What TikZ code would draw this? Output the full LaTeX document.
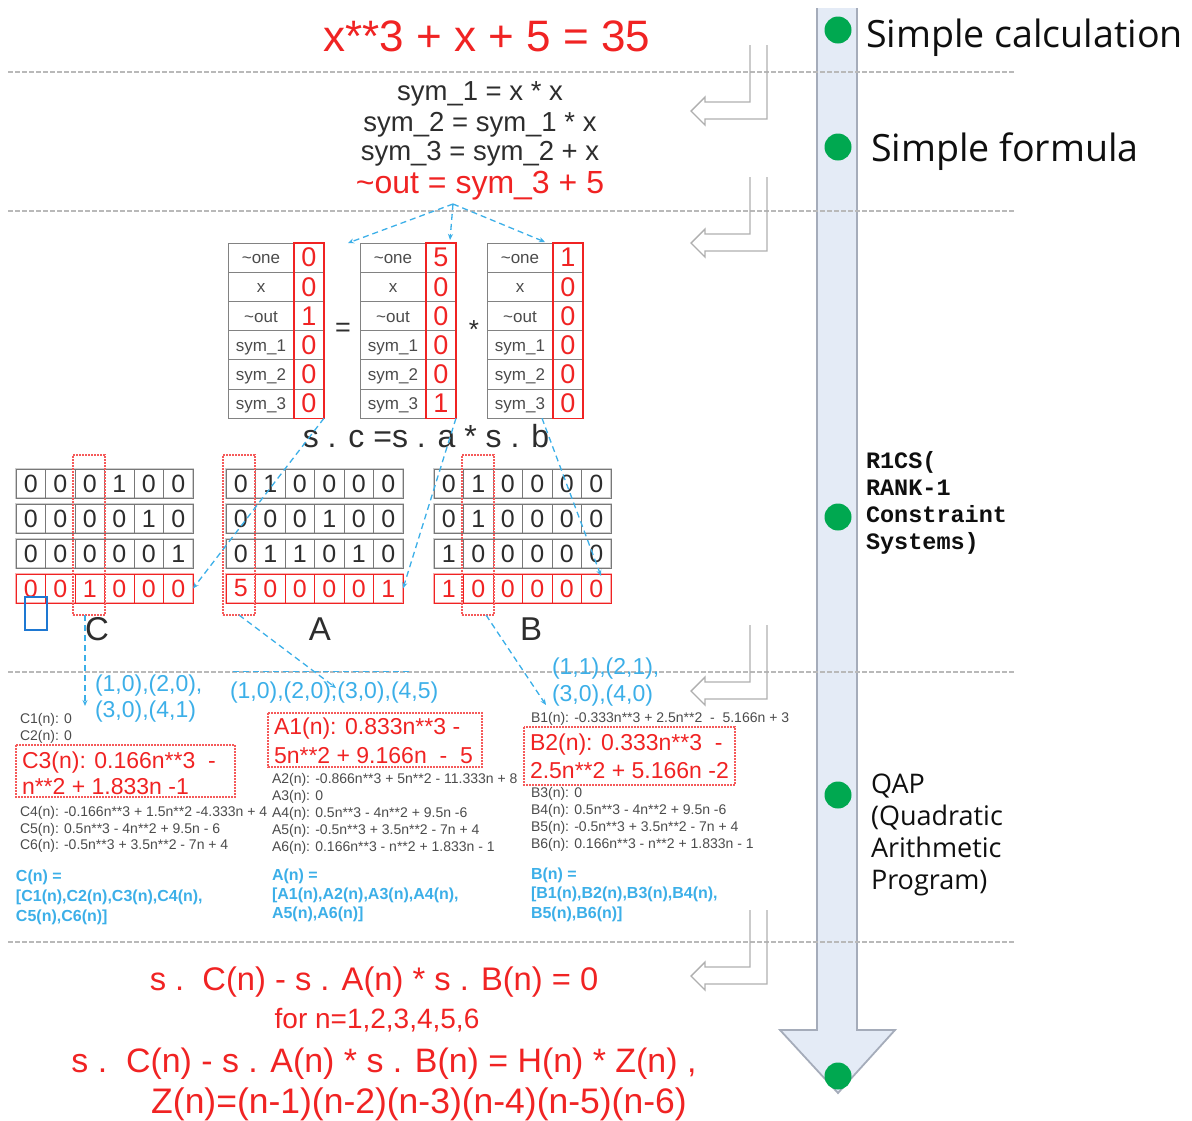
\documentclass[tikz,border=0pt]{standalone}
\usepackage{fontspec}
\setmainfont{Liberation Sans}
\newfontfamily\lblfont{Open Sans}
\newfontfamily\monofnt{Liberation Mono}
\usetikzlibrary{arrows.meta,calc}
\newcommand\fsz[1]{\fontsize{#1pt}{#1pt}\selectfont}
\newcommand\tild{\textasciitilde}
\definecolor{cred}{RGB}{240,35,35}
\definecolor{hlred}{RGB}{245,90,90}
\definecolor{cblue}{RGB}{60,175,232}
\definecolor{cblue2}{RGB}{30,120,210}
\definecolor{dark}{RGB}{45,45,45}
\definecolor{mid}{RGB}{75,75,75}
\definecolor{sepc}{RGB}{185,185,185}
\definecolor{hollowc}{RGB}{175,175,175}
\definecolor{bandfill}{RGB}{228,235,246}
\definecolor{bandedge}{RGB}{165,172,186}
\definecolor{cgreen}{RGB}{0,168,80}
\definecolor{cellc}{RGB}{130,130,130}
\definecolor{gframe}{RGB}{205,205,205}
\definecolor{gcell}{RGB}{120,120,120}
\definecolor{gtxt}{RGB}{45,45,45}
\definecolor{rframe}{RGB}{250,175,175}
\definecolor{rcell}{RGB}{240,35,35}
\definecolor{rtxt}{RGB}{240,35,35}
\definecolor{lbl}{RGB}{15,15,15}

% vector table: name, left x, values
\newcommand\vectab[3]{%
  \foreach \lab [count=\i from 0] in {\tild one,x,\tild out,sym\_1,sym\_2,sym\_3}{
    \draw[cellc,line width=0.9pt] (#2,243+\i*29.2) rectangle ++(66,29.2);
    \node[anchor=base,text=mid,font=\fsz{17}] at (#2+33,243+\i*29.2+20.6) {\lab};
  }
  \foreach \v [count=\i from 0] in {#3}{
    \draw[cellc,line width=0.9pt] (#2+66,243+\i*29.2) rectangle ++(30,29.2);
    \node[text=cred,font=\fsz{27}] at (#2+81,243+\i*29.2+14.6) {\v};
  }
  \draw[cred,line width=1.1pt] (#2+66,243) rectangle ++(30,175.2);
  \node[minimum width=96pt,minimum height=175.2pt,anchor=north west] (#1) at (#2,243) {};
}
% matrix row: name, left, top, values, colour prefix
\newcommand\matrow[5]{%
  \draw[#5frame,line width=2.6pt] (#2,#3) rectangle ++(177,29);
  \foreach \v [count=\i from 0] in {#4}{
    \draw[#5cell,line width=1pt] (#2+\i*29.5,#3) rectangle ++(29.5,29);
    \node[text=#5txt,font=\fsz{25}] at (#2+\i*29.5+14.75,#3+14.5) {\v};
  }
  \node[minimum width=177pt,minimum height=29pt,anchor=north west] (#1) at (#2,#3) {};
}

\begin{document}
\begin{tikzpicture}[x=1pt,y=-1pt,
  every node/.style={inner sep=0pt,outer sep=0pt},
  sep/.style={draw=sepc,line width=1.6pt,dash pattern=on 4.5pt off 2.5pt},
  hollow/.style={draw=hollowc,line width=1.4pt,line join=miter},
  bl/.style={draw=cblue,line width=1.3pt,dash pattern=on 6pt off 4pt},
  bla/.style={bl,-{Stealth[length=6pt,width=5pt]}},
  dot/.style={circle,fill=cgreen,minimum size=27pt},
  small/.style={anchor=base west,text=mid,font=\fsz{14}},
  redbig/.style={anchor=base west,text=cred,font=\fsz{23}},
  bluelist/.style={anchor=base west,text=cblue,font=\bfseries\fsz{16}},
  pts/.style={anchor=base west,text=cblue,font=\fsz{23}},
  redbox/.style={draw=hlred,dash pattern=on 2pt off 1pt,line width=1.2pt},
  colhl/.style={draw=hlred,dash pattern=on 2pt off 1pt,line width=1.3pt,minimum width=32pt,minimum height=160pt},
  qap/.style={anchor=base west,text=lbl,font=\lblfont\fsz{27}},
  rics/.style={anchor=base west,text=lbl,font=\monofnt\bfseries\fsz{23.5}},
]
\useasboundingbox (0,0) rectangle (1192,1120);

% ---- big timeline arrow
\fill[bandfill] (817,8) -- (857,8) -- (857,1030) -- (895,1030) -- (838,1093) -- (780,1030) -- (817,1030) -- cycle;
\draw[bandedge,line width=1.8pt,line join=miter] (817,8) -- (817,1030) -- (780,1030) -- (838,1093) -- (895,1030) -- (857,1030) -- (857,8);

% ---- separators
\foreach \y in {72,211,672,942} \draw[sep] (8,\y) -- (1015,\y);

% ---- hollow bent arrows
\foreach \t in {45,177,625,910}
  \draw[hollow] (750,\t) -- (750,\t+57) -- (705,\t+57) -- (705,\t+52) -- (691,\t+66) -- (705,\t+80) -- (705,\t+74) -- (767,\t+74) -- (767,\t);

% ---- stage dots and labels
\node[dot] (d1) at (838,30) {};
\node[dot] (d2) at (838,147) {};
\node[dot] (d3) at (838,517) {};
\node[dot] (d4) at (838,795) {};
\node[dot] (d5) at (838,1076) {};
\node[anchor=base west,text=lbl,font=\lblfont\fsz{37.6}] (l1) at (866,47) {Simple calculation};
\node[anchor=base west,text=lbl,font=\lblfont\fsz{37.6}] (l2) at (871,161) {Simple formula};
\node[rics] (r1) at (866,468) {R1CS(};
\node[rics] (r2) at (866,495) {RANK-1};
\node[rics] (r3) at (866,522) {Constraint};
\node[rics] (r4) at (866,549) {Systems)};
\node[qap] (q1) at (871,793) {QAP};
\node[qap] (q2) at (871,825) {(Quadratic};
\node[qap] (q3) at (871,857) {Arithmetic};
\node[qap] (q4) at (871,889) {Program)};

% ---- simple calculation / formula
\node[anchor=base,text=cred,font=\fsz{44}] (title) at (487,51) {x**3 + x + 5 = 35};
\node[anchor=base,text=dark,font=\fsz{27.5}] (f1) at (480,100) {sym\_1 = x * x};
\node[anchor=base,text=dark,font=\fsz{27.5}] (f2) at (480,131) {sym\_2 = sym\_1 * x};
\node[anchor=base,text=dark,font=\fsz{27.5}] (f3) at (480,160) {sym\_3 = sym\_2 + x};
\node[anchor=base,text=cred,font=\fsz{32}] (f4) at (480,193.5) {\tild out = sym\_3 + 5};

% ---- vectors
\vectab{vs}{228}{0,0,1,0,0,0}
\vectab{va}{360}{5,0,0,0,0,1}
\vectab{vb}{487}{1,0,0,0,0,0}
\node[text=dark,font=\fsz{27}] (eqs) at (343,330) {=};
\node[text=dark,font=\fsz{26}] (mul) at (474,330) {*};
\node[anchor=base,text=dark,font=\fsz{32}] (sceq) at (426,447) {s . c =s . a * s . b};

% ---- matrices
\matrow{Cr1}{16}{469}{0,0,0,1,0,0}{g}
\matrow{Cr2}{16}{504}{0,0,0,0,1,0}{g}
\matrow{Cr3}{16}{539}{0,0,0,0,0,1}{g}
\matrow{Cr4}{16}{574}{0,0,1,0,0,0}{r}
\matrow{Ar1}{226}{469}{0,1,0,0,0,0}{g}
\matrow{Ar2}{226}{504}{0,0,0,1,0,0}{g}
\matrow{Ar3}{226}{539}{0,1,1,0,1,0}{g}
\matrow{Ar4}{226}{574}{5,0,0,0,0,1}{r}
\matrow{Br1}{434}{469}{0,1,0,0,0,0}{g}
\matrow{Br2}{434}{504}{0,1,0,0,0,0}{g}
\matrow{Br3}{434}{539}{1,0,0,0,0,0}{g}
\matrow{Br4}{434}{574}{1,0,0,0,0,0}{r}
\node[colhl] (Ccol) at (89,535) {};
\node[colhl] (Acol) at (239,535) {};
\node[colhl] (Bcol) at (478,535) {};
\node[draw=cblue2,line width=1.3pt,minimum width=22pt,minimum height=33pt] (sel) at (36,613.5) {};
\node[anchor=base,text=dark,font=\fsz{33}] (Clab) at (97,640) {C};
\node[anchor=base,text=dark,font=\fsz{33}] (Alab) at (320,640) {A};
\node[anchor=base,text=dark,font=\fsz{33}] (Blab) at (531,640) {B};

% ---- connectors
\coordinate (outroot) at (453,204);
\coordinate (e1) at (348,243);
\coordinate (e2) at (450,240);
\coordinate (e3) at (545,242);
\draw[bla] (outroot) -- (e1);
\draw[bla] (outroot) -- (e2);
\draw[bla] (outroot) -- (e3);
\draw[bla] (vs.south east) -- (Cr4.east);
\draw[bla] (va.south east) -- (Ar4.east);
\draw[bla] ($(vb.south)+(7,0)$) -- ($(Br4.north east)+(-10,2)$);
\coordinate (cpt) at (85,706);
\coordinate (apt) at (336,688);
\coordinate (bpt) at (546,705);
\draw[bla] (Ccol.south -| cpt) -- (cpt);
\draw[bla] (Acol.south) -- (apt);
\draw[bla] ($(Bcol.south)+(8,0)$) -- (bpt);
\draw[bl,line width=1pt] (233,671) -- (411,671);

% ---- point lists
\node[pts] (cp1) at (95,691) {(1,0),(2,0),};
\node[pts] (cp2) at (95,717) {(3,0),(4,1)};
\node[pts] (ap) at (230,698) {(1,0),(2,0),(3,0),(4,5)};
\node[pts] (bp1) at (552,674) {(1,1),(2,1),};
\node[pts] (bp2) at (552,701) {(3,0),(4,0)};

% ---- C polynomials
\node[small] (c1) at (20,723) {C1(n): 0};
\node[small] (c2) at (20,740) {C2(n): 0};
\draw[redbox] (16,745) rectangle (235,797);
\node[redbig] (c3a) at (22,768) {C3(n): 0.166n**3\ \ -};
\node[redbig] (c3b) at (22,794) {n**2 + 1.833n -1};
\node[small] (c4) at (20,816) {C4(n): -0.166n**3 + 1.5n**2 -4.333n + 4};
\node[small] (c5) at (20,833) {C5(n): 0.5n**3 - 4n**2 + 9.5n - 6};
\node[small] (c6) at (20,849) {C6(n): -0.5n**3 + 3.5n**2 - 7n + 4};
\node[bluelist] (cl1) at (16,881) {C(n) =};
\node[bluelist] (cl2) at (16,901) {[C1(n),C2(n),C3(n),C4(n),};
\node[bluelist] (cl3) at (16,921) {C5(n),C6(n)]};

% ---- A polynomials
\draw[redbox] (268,713) rectangle (482,767);
\node[redbig] (a1a) at (274,734) {A1(n): 0.833n**3 -};
\node[redbig] (a1b) at (274,763) {5n**2 + 9.166n\ \ -\ \ 5};
\node[small] (a2) at (272,783) {A2(n): -0.866n**3 + 5n**2 - 11.333n + 8};
\node[small] (a3) at (272,800) {A3(n): 0};
\node[small] (a4) at (272,817) {A4(n): 0.5n**3 - 4n**2 + 9.5n -6};
\node[small] (a5) at (272,834) {A5(n): -0.5n**3 + 3.5n**2 - 7n + 4};
\node[small] (a6) at (272,851) {A6(n): 0.166n**3 - n**2 + 1.833n - 1};
\node[bluelist] (al1) at (272,880) {A(n) =};
\node[bluelist] (al2) at (272,899) {[A1(n),A2(n),A3(n),A4(n),};
\node[bluelist] (al3) at (272,918) {A5(n),A6(n)]};

% ---- B polynomials
\node[small] (b1) at (531,722) {B1(n): -0.333n**3 + 2.5n**2\ \ -\ \ 5.166n + 3};
\draw[redbox] (524,727) rectangle (735,785);
\node[redbig] (b2a) at (530,750) {B2(n): 0.333n**3\ \ -};
\node[redbig] (b2b) at (530,778) {2.5n**2 + 5.166n -2};
\node[small] (b3) at (531,797) {B3(n): 0};
\node[small] (b4) at (531,814) {B4(n): 0.5n**3 - 4n**2 + 9.5n -6};
\node[small] (b5) at (531,831) {B5(n): -0.5n**3 + 3.5n**2 - 7n + 4};
\node[small] (b6) at (531,848) {B6(n): 0.166n**3 - n**2 + 1.833n - 1};
\node[bluelist] (bl1) at (531,879) {B(n) =};
\node[bluelist] (bl2) at (531,898) {[B1(n),B2(n),B3(n),B4(n),};
\node[bluelist] (bl3) at (531,918) {B5(n),B6(n)]};

% ---- final equations
\node[anchor=base,text=cred,font=\fsz{32.7}] (z1) at (374,990) {s .\ \ C(n) - s . A(n) * s . B(n) = 0};
\node[anchor=base,text=cred,font=\fsz{28}] (z2) at (377,1028) {for n=1,2,3,4,5,6};
\node[anchor=base,text=cred,font=\fsz{33.9}] (z3) at (384,1072) {s .\ \ C(n) - s . A(n) * s . B(n) = H(n) * Z(n) ,};
\node[anchor=base,text=cred,font=\fsz{35.5}] (z4) at (419,1113) {Z(n)=(n-1)(n-2)(n-3)(n-4)(n-5)(n-6)};
\end{tikzpicture}
\end{document}
